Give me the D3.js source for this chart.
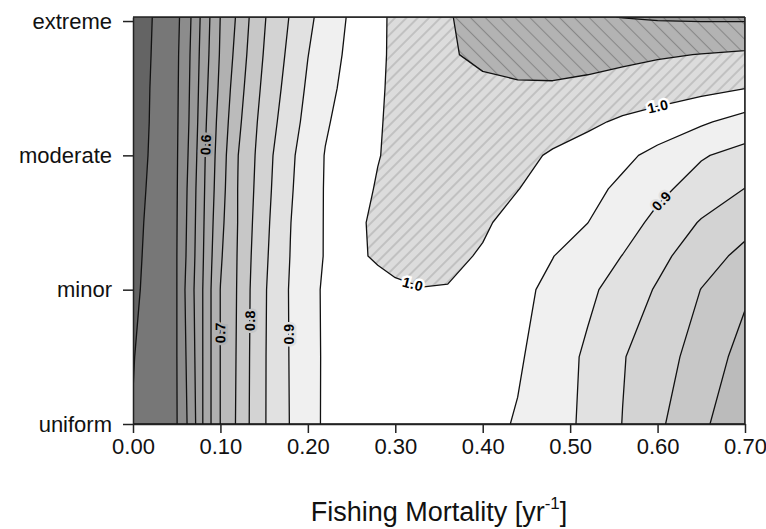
<!DOCTYPE html>
<html><head><meta charset="utf-8">
<script src="https://cdn.jsdelivr.net/npm/d3@7"></script>
<style>
html,body{margin:0;padding:0;background:#fff;}
svg{display:block;}
text{font-family:"Liberation Sans",Arial,sans-serif;}
</style></head><body>
<svg id="chart" width="766" height="529"></svg>
<script>
// ---------- data ----------
const categories = ["uniform", "minor", "moderate", "extreme"];
const categoryIndex = [0, 1, 2, 3];
const xTicks = [0.0, 0.1, 0.2, 0.3, 0.4, 0.5, 0.6, 0.7];
// sample positions of the value grid: fishing mortality (columns) and spatial category (rows)
const fGrid = [0, 0.02, 0.05, 0.06, 0.07, 0.08, 0.09, 0.10, 0.12, 0.14, 0.16, 0.18, 0.20, 0.22, 0.25, 0.28, 0.30, 0.33, 0.36, 0.40, 0.44, 0.48, 0.52, 0.56, 0.60, 0.65, 0.70];
const cGrid = [0, 0.5, 1, 1.25, 1.5, 1.75, 2, 2.25, 2.5, 2.75, 3.03];
// grid values, one array per row (bottom = uniform, top = extreme)
const zRow000 = [0.402, 0.420, 0.448, 0.491, 0.540, 0.601, 0.654, 0.701, 0.758, 0.823, 0.868, 0.902, 0.932, 0.957, 0.965, 0.972, 0.975, 0.977, 0.975, 0.965, 0.946, 0.920, 0.890, 0.849, 0.809, 0.760, 0.710];
const zRow050 = [0.398, 0.419, 0.449, 0.497, 0.546, 0.601, 0.654, 0.701, 0.756, 0.822, 0.868, 0.903, 0.931, 0.957, 0.968, 0.977, 0.981, 0.983, 0.982, 0.973, 0.956, 0.925, 0.892, 0.853, 0.822, 0.779, 0.732];
const zRow100 = [0.390, 0.414, 0.449, 0.503, 0.551, 0.601, 0.654, 0.701, 0.754, 0.820, 0.867, 0.904, 0.931, 0.958, 0.972, 0.984, 0.995, 0.999, 0.998, 0.985, 0.962, 0.939, 0.910, 0.879, 0.845, 0.799, 0.758];
const zRow125 = [0.387, 0.412, 0.449, 0.497, 0.546, 0.597, 0.648, 0.694, 0.753, 0.815, 0.863, 0.901, 0.929, 0.953, 0.990, 1.006, 1.009, 1.012, 1.010, 0.996, 0.973, 0.951, 0.926, 0.899, 0.864, 0.821, 0.787];
const zRow150 = [0.384, 0.410, 0.448, 0.494, 0.543, 0.594, 0.643, 0.687, 0.751, 0.810, 0.859, 0.899, 0.928, 0.953, 0.990, 1.008, 1.015, 1.020, 1.018, 1.006, 0.985, 0.969, 0.9505, 0.920, 0.888, 0.846, 0.816];
const zRow175 = [0.380, 0.407, 0.447, 0.491, 0.540, 0.591, 0.638, 0.680, 0.751, 0.805, 0.854, 0.895, 0.926, 0.953, 0.980, 1.004, 1.015, 1.024, 1.026, 1.018, 1.001, 0.982, 0.963, 0.941, 0.911, 0.880, 0.849];
const zRow200 = [0.376, 0.404, 0.446, 0.486, 0.534, 0.588, 0.634, 0.675, 0.749, 0.801, 0.8497, 0.891, 0.924, 0.952, 0.975, 0.998, 1.010, 1.025, 1.030, 1.027, 1.015, 0.994, 0.977, 0.960, 0.938, 0.904, 0.884];
const zRow225 = [0.374, 0.402, 0.445, 0.481, 0.529, 0.581, 0.629, 0.668, 0.739, 0.795, 0.840, 0.880, 0.915, 0.945, 0.971, 0.995, 1.012, 1.028, 1.036, 1.040, 1.036, 1.025, 1.010, 0.992, 0.977, 0.957, 0.930];
const zRow250 = [0.372, 0.401, 0.444, 0.478, 0.526, 0.575, 0.621, 0.661, 0.729, 0.788, 0.831, 0.871, 0.907, 0.936, 0.967, 0.993, 1.010, 1.028, 1.038, 1.044, 1.046, 1.046, 1.042, 1.036, 1.027, 1.014, 1.001];
const zRow275 = [0.370, 0.399, 0.443, 0.475, 0.523, 0.570, 0.614, 0.655, 0.718, 0.781, 0.824, 0.862, 0.899, 0.927, 0.963, 0.991, 1.009, 1.030, 1.047, 1.056, 1.062, 1.064, 1.062, 1.058, 1.054, 1.049, 1.043];
const zRow303 = [0.368, 0.397, 0.441, 0.469, 0.518, 0.565, 0.609, 0.651, 0.708, 0.773, 0.818, 0.853, 0.889, 0.919, 0.958, 0.989, 1.010, 1.032, 1.047, 1.066, 1.080, 1.088, 1.095, 1.101, 1.105, 1.107, 1.108];
const zRows = [zRow000, zRow050, zRow100, zRow125, zRow150, zRow175, zRow200, zRow225, zRow250, zRow275, zRow303];
// contour levels
const levels = [0.40, 0.45, 0.50, 0.55, 0.60, 0.65, 0.70, 0.75, 0.80, 0.85, 0.90, 0.95, 1.00, 1.05, 1.10];
// labelled contours: level and approximate location (F, category units)
const labelLevels = [0.6, 0.7, 0.8, 0.9, 1.0, 0.9, 1.0];
const labelF      = [0.082, 0.100, 0.132, 0.179, 0.600, 0.603, 0.319];
const labelC      = [2.08, 0.68, 0.77, 0.67, 2.38, 1.67, 1.02];

// ---------- styles ----------
const bandBelow = "#646464";
const bandFills = ["#777777", "#8c8c8c", "#989898", "#a1a1a1", "#a9a9a9", "#b1b1b1", "#bbbbbb",
                   "#c7c7c7", "#d3d3d3", "#e1e1e1", "#f0f0f0", "#ffffff",
                   "url(#hatchLight)", "url(#hatchDark)", "url(#hatchDarker)"];
const haloColors = {"0.6": "#a1a1a1", "0.7": "#b1b1b1", "0.8": "#c7c7c7", "0.9": "#e1e1e1", "1.0": "#ffffff"};

const W = 766, H = 529;
const margin = {left: 133, right: 21, top: 17, bottom: 105};
const svg = d3.select("#chart");

const X = d3.scaleLinear().domain([0, 0.7]).range([margin.left, W - margin.right]);
const Y = d3.scaleLinear().domain([0, cGrid[cGrid.length - 1]]).range([H - margin.bottom, margin.top]);

// defs: hatching
const defs = svg.append("defs");
function hatch(id, size, angle, bg, fg) {
  const p = defs.append("pattern").attr("id", id).attr("patternUnits", "userSpaceOnUse")
    .attr("width", size).attr("height", size).attr("patternTransform", `rotate(${angle})`);
  p.append("rect").attr("width", size).attr("height", size).attr("fill", bg);
  p.append("line").attr("x1", size / 2).attr("y1", 0).attr("x2", size / 2).attr("y2", size)
    .attr("stroke", fg).attr("stroke-width", 1.1);
}
hatch("hatchLight", 8, 45, "#dcdcdc", "#ababab");
hatch("hatchDark", 10.5, -45, "#b3b3b3", "#878787");
hatch("hatchDarker", 10.5, -45, "#9c9c9c", "#7a7a7a");

defs.append("clipPath").attr("id", "plotClip").append("rect")
  .attr("x", X(0)).attr("y", Y(cGrid[cGrid.length - 1]))
  .attr("width", X(0.7) - X(0)).attr("height", Y(0) - Y(cGrid[cGrid.length - 1]));

// ---------- contours ----------
const nx = fGrid.length, ny = cGrid.length;
const values = new Array(nx * ny);
for (let j = 0; j < ny; j++) for (let i = 0; i < nx; i++) values[i + j * nx] = zRows[j][i];

const gx = d3.scaleLinear().domain(fGrid.map((_, i) => i + 0.5)).range(fGrid).clamp(true);
const gy = d3.scaleLinear().domain(cGrid.map((_, j) => j + 0.5)).range(cGrid).clamp(true);
const proj = d3.geoTransform({point: function (x, y) { this.stream.point(X(gx(x)), Y(gy(y))); }});
const path = d3.geoPath(proj);

const contours = d3.contours().size([nx, ny]).thresholds(levels)(values);

const plot = svg.append("g").attr("clip-path", "url(#plotClip)");
plot.append("rect").attr("x", X(0)).attr("y", Y(cGrid[ny - 1]))
  .attr("width", X(0.7) - X(0)).attr("height", Y(0) - Y(cGrid[ny - 1])).attr("fill", bandBelow);

plot.selectAll("path.band").data(contours).join("path")
  .attr("class", "band")
  .attr("d", path)
  .attr("fill", (d, i) => bandFills[i])
  .attr("stroke", "#111")
  .attr("stroke-width", 1.3)
  .attr("stroke-linejoin", "round");

// ---------- contour labels ----------
const xMin = X(0), xMax = X(0.7), yMin = Y(cGrid[ny - 1]), yMax = Y(0);
function onEdge(a, b) {
  const e = 0.01;
  return (Math.abs(a[0] - xMin) < e && Math.abs(b[0] - xMin) < e) ||
         (Math.abs(a[0] - xMax) < e && Math.abs(b[0] - xMax) < e) ||
         (Math.abs(a[1] - yMin) < e && Math.abs(b[1] - yMin) < e) ||
         (Math.abs(a[1] - yMax) < e && Math.abs(b[1] - yMax) < e);
}
function snap(level, F, c) {
  const k = levels.findIndex(l => Math.abs(l - level) < 1e-9);
  const geom = contours[k];
  const px = X(F), py = Y(c);
  let best = null, bd = Infinity;
  geom.coordinates.forEach(poly => poly.forEach(ring => {
    const pts = ring.map(p => [X(gx(p[0])), Y(gy(p[1]))]);
    for (let s = 0; s < pts.length - 1; s++) {
      const a = pts[s], b = pts[s + 1];
      if (onEdge(a, b)) continue;
      const dx = b[0] - a[0], dy = b[1] - a[1], L = dx * dx + dy * dy;
      if (L < 1e-6) continue;
      let t = ((px - a[0]) * dx + (py - a[1]) * dy) / L;
      t = Math.max(0, Math.min(1, t));
      const qx = a[0] + t * dx, qy = a[1] + t * dy;
      const d = (qx - px) ** 2 + (qy - py) ** 2;
      if (d < bd) {
        bd = d;
        const a2 = pts[Math.max(0, s - 1)], b2 = pts[Math.min(pts.length - 1, s + 2)];
        let ang = Math.atan2(b2[1] - a2[1], b2[0] - a2[0]) * 180 / Math.PI;
        if (ang >= 90) ang -= 180;
        if (ang < -90) ang += 180;
        best = {x: qx, y: qy, ang};
      }
    }
  }));
  return best;
}
const fmt1 = d3.format(".1f");
labelLevels.forEach((lv, i) => {
  const p = snap(lv, labelF[i], labelC[i]);
  if (!p) return;
  svg.append("text")
    .attr("transform", `translate(${p.x},${p.y}) rotate(${p.ang})`)
    .attr("text-anchor", "middle").attr("dy", "0.36em")
    .style("font-size", "14px").style("font-weight", "bold").style("letter-spacing", "0.5px")
    .attr("fill", "#000")
    .attr("stroke", haloColors[fmt1(lv)]).attr("stroke-width", 5)
    .attr("paint-order", "stroke")
    .text(fmt1(lv));
});

// ---------- frame & axes ----------
svg.append("line").attr("x1", X(0)).attr("x2", X(0.7)).attr("y1", yMin).attr("y2", yMin)
  .attr("stroke", "#222").attr("stroke-width", 1.5);
svg.append("line").attr("x1", X(0.7)).attr("x2", X(0.7)).attr("y1", yMin).attr("y2", yMax)
  .attr("stroke", "#222").attr("stroke-width", 1.5);

const xAxis = svg.append("g").attr("transform", `translate(0,${Y(0)})`)
  .call(d3.axisBottom(X).tickValues(xTicks).tickFormat(d3.format(".2f")).tickSize(9).tickSizeOuter(0).tickPadding(5));
const yAxis = svg.append("g").attr("transform", `translate(${X(0)},0)`)
  .call(d3.axisLeft(Y).tickValues(categoryIndex).tickFormat(i => categories[i]).tickSize(10).tickSizeOuter(0).tickPadding(11));
[xAxis, yAxis].forEach(a => {
  a.select(".domain").attr("stroke", "#222").attr("stroke-width", 1.5);
  a.selectAll(".tick line").attr("stroke", "#222").attr("stroke-width", 1.5);
  a.selectAll(".tick text").attr("fill", "#111").style("font-size", "22px")
    .style("font-family", "'Liberation Sans', Arial, sans-serif");
});

const title = svg.append("text").attr("x", (X(0) + X(0.7)) / 2).attr("y", 521)
  .attr("text-anchor", "middle").attr("fill", "#111").style("font-size", "27px");
title.append("tspan").text("Fishing Mortality [yr");
title.append("tspan").attr("dy", -12).style("font-size", "17px").text("-1");
title.append("tspan").attr("dy", 12).text("]");
</script>
</body></html>
